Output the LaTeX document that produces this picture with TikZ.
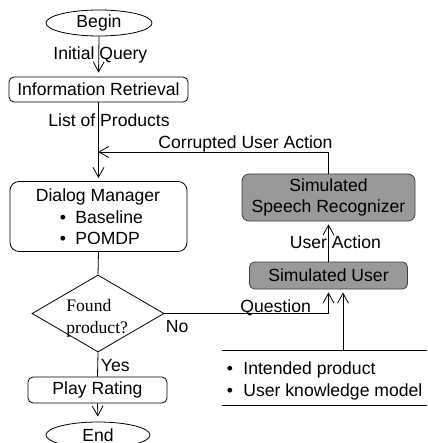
\documentclass[tikz,border=0pt]{standalone}
\usepackage{fontspec}
\setmainfont{Liberation Sans}
\newfontfamily\serifface{Liberation Serif}
\usetikzlibrary{shapes.geometric,arrows.meta}
\begin{document}
\begin{tikzpicture}[x=1pt,y=-1pt,
  font=\fontsize{17.6}{20}\selectfont,
  line width=0.8pt,
  arr/.style={-{Straight Barb[length=10pt,width=11pt,line width=0.8pt]}},
  roundbox/.style={draw, rectangle, rounded corners=5pt, inner sep=0pt},
  graybox/.style={draw=black!75, fill=black!40, rectangle, rounded corners=7pt, inner sep=0pt, align=center},
  oval/.style={draw, ellipse, inner sep=0pt},
  txt/.style={inner sep=0pt, anchor=base west}
]
\useasboundingbox (0,0) rectangle (427,443);
% left column
\node[oval, minimum width=106pt, minimum height=26pt] (begin) at (99,23) {Begin};
\node[roundbox, minimum width=179pt, minimum height=25pt] (ir) at (98.5,89.5) {Information Retrieval};
\node[txt] (iq) at (53,59.5) {Initial Query};
\node[txt] (lp) at (48,126.5) {List of Products};
\coordinate (junc) at (98,152);
\node[roundbox, rounded corners=9pt, minimum width=177pt, minimum height=70pt] (dm) at (98.5,216.5) {};
\node[inner sep=0pt, anchor=base] (dmt) at (98,202) {Dialog Manager};
\node[txt] (b1) at (59.5,223.5) {•};
\node[txt] (b1t) at (75,223.5) {Baseline};
\node[txt] (b2) at (59.5,244.5) {•};
\node[txt] (b2t) at (75,244.5) {POMDP};
\node[draw, diamond, minimum width=132pt, minimum height=77pt, inner sep=0pt] (dia) at (98,313.5) {};
\node[txt, font=\serifface\fontsize{17.6}{20}\selectfont] (f1) at (66,311) {Found};
\node[txt, font=\serifface\fontsize{17.6}{20}\selectfont] (f2) at (66,333) {product?};
\node[txt] (no) at (165.5,332) {No};
\node[txt] (yes) at (100.5,371) {Yes};
\node[roundbox, minimum width=139pt, minimum height=26pt] (pr) at (97.5,390) {Play Rating};
\node[oval, minimum width=104pt, minimum height=26pt] (end) at (98,435) {End};
% right column
\node[graybox, minimum width=173pt, minimum height=47pt, font=\fontsize{17.6}{21}\selectfont] (ssr) at (328.5,197.5) {Simulated\\Speech Recognizer};
\node[graybox, rounded corners=5pt, minimum width=158pt, minimum height=27pt] (su) at (328.5,275.5) {Simulated User};
\node[txt] (cua) at (158,148.5) {Corrupted User Action};
\node[txt] (ua) at (289.5,248.5) {User Action};
\node[txt] (q) at (240,312) {Question};
\node[inner sep=0pt, minimum width=205pt, minimum height=54pt] (kbox) at (324.5,378) {};
\node[txt] (k1) at (226.5,374.5) {•};
\node[txt] (k1t) at (243,374.5) {Intended product};
\node[txt] (k2) at (226.5,396.5) {•};
\node[txt] (k2t) at (243,396.5) {User knowledge model};
\draw (kbox.north west) -- (kbox.north east);
\draw (kbox.south west) -- (kbox.south east);
\coordinate (kb) at (343,351);
% connectors
\draw[arr, shorten >=4pt] (begin.south) -- (ir.north);
\draw[arr, shorten >=3pt] (ir.south) -- (dm.north);
\draw[arr] (ssr.north) |- (junc);
\draw (dm.south) -- (dia.north);
\draw (dia.south) -- (pr.north);
\draw[arr, shorten >=5pt] (pr.south) -- (end.north);
\draw[arr, shorten >=3pt] (su.north) -- (ssr.south);
\draw[arr, shorten >=3pt] (dia.east) -| (su.south);
\draw[arr, shorten >=3pt] (kb) -- (kb |- su.south);
\end{tikzpicture}
\end{document}
